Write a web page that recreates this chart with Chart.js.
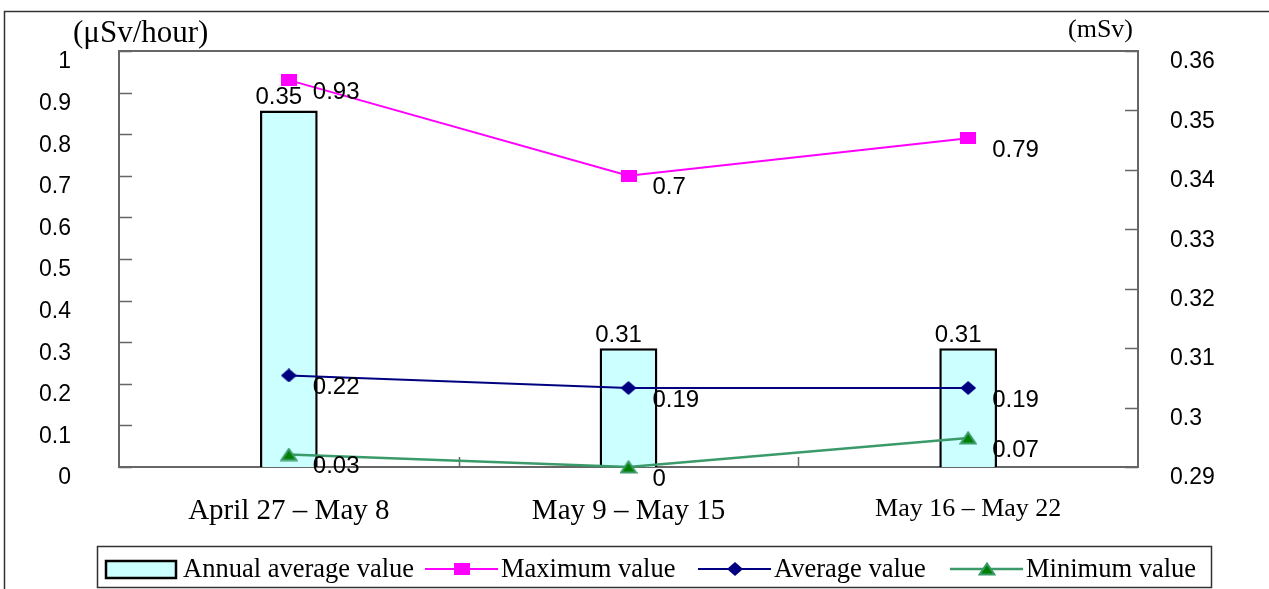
<!DOCTYPE html>
<html>
<head>
<meta charset="utf-8">
<script src="https://cdn.jsdelivr.net/npm/chart.js@4.4.0/dist/chart.umd.min.js"></script>
<style>
  html, body { margin: 0; padding: 0; background: #fff; }
  #wrap { width: 1269px; height: 589px; position: relative; }
</style>
</head>
<body>
<div id="wrap"><canvas id="doseChart"></canvas></div>
<script>
// values
const periods = ['April 27 \u2013 May 8', 'May 9 \u2013 May 15', 'May 16 \u2013 May 22'];
const annualAverage = [0.35, 0.31, 0.31];   // mSv, right axis
const maximumValues = [0.93, 0.7, 0.79];    // uSv/hour, left axis
const averageValues = [0.22, 0.19, 0.19];
const minimumValues = [0.03, 0, 0.07];
const leftTicks = [0, 0.1, 0.2, 0.3, 0.4, 0.5, 0.6, 0.7, 0.8, 0.9, 1];
const rightTicks = [0.29, 0.3, 0.31, 0.32, 0.33, 0.34, 0.35, 0.36];

const SERIF = '"Liberation Serif", "Times New Roman", serif';
const SANS = '"Liberation Sans", Arial, sans-serif';
const FRAME = '#666';

function makeMarker(w, h, draw) {
    const c = document.createElement('canvas');
    c.width = w;
    c.height = h;
    draw(c.getContext('2d'), w, h);
    return c;
}

const squareMarker = makeMarker(16, 12, (g, w, h) => {
    g.fillStyle = '#ff00ff';
    g.fillRect(0, 0, w, h);
});
const diamondMarker = makeMarker(16, 14, (g, w, h) => {
    g.fillStyle = '#000080';
    g.beginPath();
    g.moveTo(w / 2, 0);
    g.lineTo(w, h / 2);
    g.lineTo(w / 2, h);
    g.lineTo(0, h / 2);
    g.closePath();
    g.fill();
});
const triangleMarker = makeMarker(18, 14, (g, w, h) => {
    g.beginPath();
    g.moveTo(w / 2, 1.5);
    g.lineTo(w - 1.5, h - 1.5);
    g.lineTo(1.5, h - 1.5);
    g.closePath();
    g.fillStyle = '#008000';
    g.fill();
    g.strokeStyle = '#3a9a6a';
    g.lineWidth = 2;
    g.stroke();
});

// fixed axis sizes so the plot area lands where the reference has it
function fixBox(size, key) {
    return s => {
        s[key] = size;
        s.paddingTop = 0;
        s.paddingBottom = 0;
        s.paddingLeft = 0;
        s.paddingRight = 0;
    };
}

// plot frame with inward tick marks
const plotFrame = {
    id: 'plotFrame',
    beforeDatasetsDraw(chart) {
        const { ctx, chartArea: a, scales } = chart;
        ctx.save();
        ctx.strokeStyle = FRAME;
        ctx.lineWidth = 2;
        ctx.strokeRect(a.left, a.top, a.right - a.left, a.bottom - a.top);
        ctx.lineWidth = 1.5;
        ctx.beginPath();
        scales.y.ticks.forEach(t => {
            const py = Math.round(scales.y.getPixelForValue(t.value)) + 0.5;
            ctx.moveTo(a.left, py);
            ctx.lineTo(a.left + 13, py);
        });
        scales.y1.ticks.forEach(t => {
            const py = Math.round(scales.y1.getPixelForValue(t.value)) + 0.5;
            ctx.moveTo(a.right, py);
            ctx.lineTo(a.right - 13, py);
        });
        const n = chart.data.labels.length;
        for (let i = 1; i < n; i++) {
            const px = Math.round((scales.x.getPixelForValue(i - 1) + scales.x.getPixelForValue(i)) / 2) + 0.5;
            ctx.moveTo(px, a.bottom);
            ctx.lineTo(px, a.bottom - 10);
        }
        ctx.stroke();
        ctx.restore();
    }
};

// numbers next to the points and above the bars
const valueLabels = {
    id: 'valueLabels',
    afterDatasetsDraw(chart) {
        const ctx = chart.ctx;
        ctx.save();
        ctx.font = '24px ' + SANS;
        ctx.fillStyle = '#000';
        ctx.textBaseline = 'middle';
        chart.data.datasets.forEach((ds, i) => {
            chart.getDatasetMeta(i).data.forEach((el, j) => {
                const text = String(ds.data[j]);
                if (ds.type === 'bar') {
                    ctx.textAlign = 'center';
                    ctx.fillText(text, el.x - 10, el.y - 13);
                } else {
                    ctx.textAlign = 'left';
                    ctx.fillText(text, el.x + 24, el.y + 12);
                }
            });
        });
        ctx.restore();
    }
};

// outer border, unit titles and the boxed legend
const decorations = {
    id: 'decorations',
    afterDraw(chart) {
        const ctx = chart.ctx;
        ctx.save();
        ctx.strokeStyle = '#333';
        ctx.lineWidth = 1.5;
        ctx.strokeRect(4.5, 11.5, 1400, 700);

        ctx.fillStyle = '#000';
        ctx.textBaseline = 'alphabetic';
        ctx.textAlign = 'left';
        ctx.font = '31px ' + SERIF;
        ctx.fillText('(\u03bcSv/hour)', 73, 42);
        ctx.textAlign = 'right';
        ctx.font = '26px ' + SERIF;
        ctx.fillText('(mSv)', 1133, 37);

        ctx.strokeStyle = '#333';
        ctx.lineWidth = 1.5;
        ctx.strokeRect(97.5, 546.5, 1114, 41);

        const slots = [106, 425, 698, 950];
        const markers = [null, squareMarker, diamondMarker, triangleMarker];
        const cy = 569;
        ctx.font = '26.5px ' + SERIF;
        ctx.textAlign = 'left';
        ctx.textBaseline = 'middle';
        chart.data.datasets.forEach((ds, i) => {
            const x = slots[i];
            let tx;
            if (ds.type === 'bar') {
                ctx.fillStyle = ds.backgroundColor;
                ctx.fillRect(x, cy - 8, 70, 17);
                ctx.strokeStyle = '#000';
                ctx.lineWidth = 2.5;
                ctx.strokeRect(x, cy - 8, 70, 17);
                tx = x + 77;
            } else {
                ctx.strokeStyle = ds.borderColor;
                ctx.lineWidth = ds.borderWidth;
                ctx.beginPath();
                ctx.moveTo(x, cy);
                ctx.lineTo(x + 73, cy);
                ctx.stroke();
                const m = markers[i];
                ctx.drawImage(m, Math.round(x + 36.5 - m.width / 2), Math.round(cy - m.height / 2));
                tx = x + 76;
            }
            ctx.fillStyle = '#000';
            ctx.fillText(ds.label, tx, cy + 1);
        });
        ctx.restore();
    }
};

new Chart(document.getElementById('doseChart'), {
    type: 'bar',
    data: {
        labels: periods,
        datasets: [
            {
                type: 'bar',
                label: 'Annual average value',
                data: annualAverage,
                yAxisID: 'y1',
                backgroundColor: '#ccffff',
                borderColor: '#000',
                borderWidth: 2.5,
                borderSkipped: false,
                barPercentage: 0.17,
                categoryPercentage: 1,
                order: 5
            },
            {
                type: 'line',
                label: 'Maximum value',
                data: maximumValues,
                yAxisID: 'y',
                borderColor: '#ff00ff',
                borderWidth: 2,
                pointStyle: squareMarker,
                pointRadius: 6,
                clip: false,
                order: 1
            },
            {
                type: 'line',
                label: 'Average value',
                data: averageValues,
                yAxisID: 'y',
                borderColor: '#000080',
                borderWidth: 2,
                pointStyle: diamondMarker,
                pointRadius: 6,
                clip: false,
                order: 1
            },
            {
                type: 'line',
                label: 'Minimum value',
                data: minimumValues,
                yAxisID: 'y',
                borderColor: '#3a9a6a',
                borderWidth: 2.5,
                pointStyle: triangleMarker,
                pointRadius: 6,
                clip: false,
                order: 1
            }
        ]
    },
    options: {
        responsive: true,
        maintainAspectRatio: false,
        animation: false,
        layout: { padding: { top: 51, left: 0, right: 0, bottom: 0 } },
        plugins: {
            legend: { display: false },
            tooltip: { enabled: false }
        },
        scales: {
            x: {
                offset: true,
                grid: { display: false, drawTicks: false },
                border: { display: false },
                ticks: {
                    autoSkip: false,
                    maxRotation: 0,
                    padding: 27,
                    color: '#000',
                    font: ctx => ({ family: SERIF, size: ctx.index === 2 ? 26 : 29 })
                },
                afterFit: fixBox(122, 'height')
            },
            y: {
                position: 'left',
                min: 0,
                max: 1,
                afterBuildTicks: s => { s.ticks = leftTicks.map(v => ({ value: v })); },
                grid: { display: false, drawTicks: false },
                border: { display: false },
                ticks: {
                    padding: 48,
                    labelOffset: 11,
                    color: '#000',
                    font: { family: SANS, size: 23 },
                    callback: v => String(+v.toFixed(2))
                },
                afterFit: fixBox(119, 'width')
            },
            y1: {
                position: 'right',
                min: 0.29,
                max: 0.36,
                afterBuildTicks: s => { s.ticks = rightTicks.map(v => ({ value: v })); },
                grid: { display: false, drawTicks: false },
                border: { display: false },
                ticks: {
                    padding: 32,
                    labelOffset: 11,
                    color: '#000',
                    font: { family: SANS, size: 23 },
                    callback: v => String(+v.toFixed(2))
                },
                afterFit: fixBox(131, 'width')
            }
        }
    },
    plugins: [plotFrame, valueLabels, decorations]
});
</script>
</body>
</html>
